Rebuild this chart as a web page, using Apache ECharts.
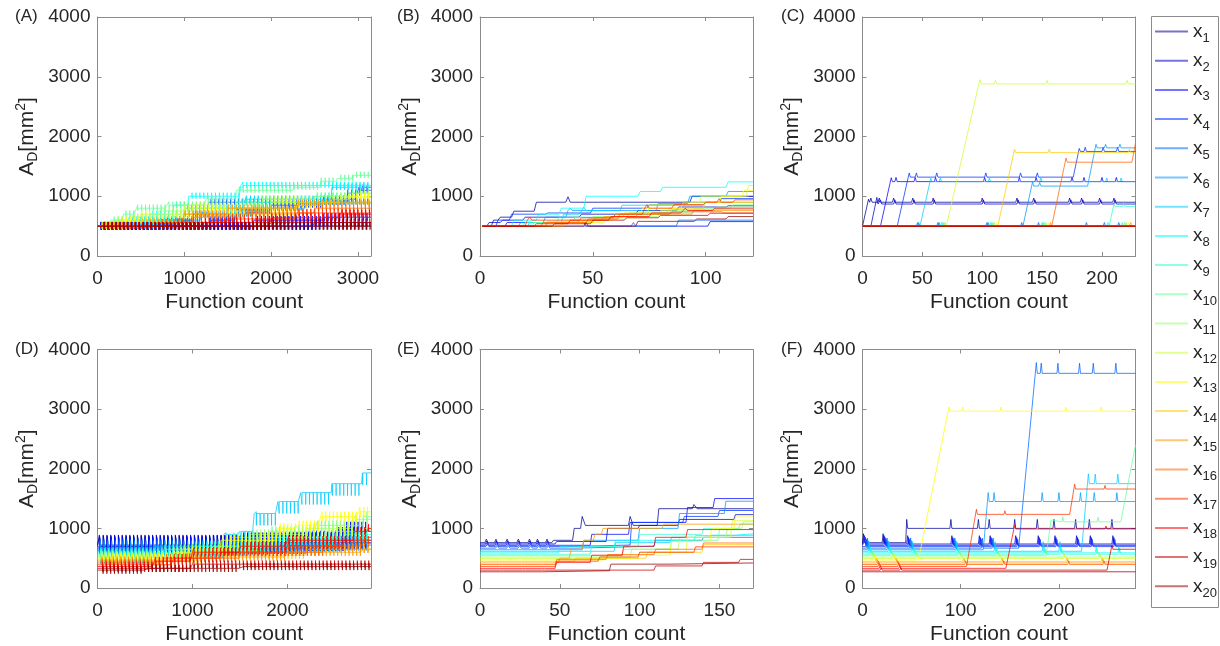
<!DOCTYPE html>
<html>
<head>
<meta charset="utf-8">
<script src="https://cdn.jsdelivr.net/npm/echarts@6/dist/echarts.min.js"></script>
<style>
  html, body { margin: 0; padding: 0; background: #fff; }
  #chart { width: 1220px; height: 646px; }
</style>
</head>
<body>
<div id="chart"></div>
<script>
const seriesNames = ['x1', 'x2', 'x3', 'x4', 'x5', 'x6', 'x7', 'x8', 'x9', 'x10',
  'x11', 'x12', 'x13', 'x14', 'x15', 'x16', 'x17', 'x18', 'x19', 'x20']
// jet colormap, 20 levels
const lineColors = ['#000099', '#0000CC', '#0000FF', '#0033FF', '#0066FF', '#0099FF', '#00CCFF', '#00FFFF', '#33FFCC', '#66FF99',
  '#99FF66', '#CCFF33', '#FFFF00', '#FFCC00', '#FF9900', '#FF6600', '#FF3300', '#FF0000', '#CC0000', '#990000']
const panelLabels = ['(A)', '(B)', '(C)', '(D)', '(E)', '(F)']
const xMaxes = [3150, 121, 228, 2880, 171, 278]
const xIntervals = [1000, 50, 50, 1000, 50, 100]
const yMax = 4000
const yInterval = 1000

// ---- (A) level steps [count, A_D], polling sweeps, spike sizes
const stepsA = [
  [[0, 500]],
  [[0, 500], [2500, 560]],
  [[0, 500], [1800, 600], [2600, 650]],
  [[0, 500], [1300, 600], [1600, 750], [2000, 850], [2600, 950], [3000, 1100]],
  [[0, 500], [800, 600], [1100, 700], [1280, 900], [2880, 1050], [3050, 1150]],
  [[0, 500], [700, 600], [1200, 700], [1800, 800], [2400, 900]],
  [[0, 500], [400, 600], [1000, 800], [1700, 950], [2700, 1150]],
  [[0, 500], [350, 600], [600, 700], [880, 850], [1050, 1000], [1650, 1180]],
  [[0, 500], [500, 600], [900, 700], [1600, 900], [2500, 1000], [2900, 1050]],
  [[0, 500], [150, 600], [300, 700], [450, 800], [800, 850], [1250, 950], [1600, 1100], [2260, 1150], [2570, 1250], [2760, 1300], [2950, 1350]],
  [[0, 500], [200, 600], [400, 650], [700, 750], [1100, 850], [1900, 950], [2500, 1000], [3000, 1050]],
  [[0, 500], [250, 600], [500, 700], [1000, 800], [2000, 900], [2800, 980]],
  [[0, 500], [300, 580], [700, 650], [1200, 750], [2300, 850], [2700, 950], [2900, 1000]],
  [[0, 500], [500, 580], [1000, 700], [2300, 850], [2600, 900]],
  [[0, 500], [600, 560], [1000, 700], [1500, 800], [2300, 880]],
  [[0, 500], [700, 560], [1100, 650], [1700, 720], [2500, 800]],
  [[0, 500], [900, 560], [1500, 620], [2300, 720]],
  [[0, 500], [1200, 560], [2000, 640], [2800, 700]],
  [[0, 500], [2000, 560]],
  [[0, 500]]
]
const sweepsA = [40, 85, 130, 175, 220, 265, 310, 355, 400, 445, 490, 535, 580, 625, 670, 715, 760, 805, 850, 895,
  940, 985, 1030, 1075, 1120, 1165, 1210, 1255, 1300, 1345, 1390, 1435, 1480, 1525, 1570, 1615, 1660, 1705, 1750, 1795,
  1840, 1885, 1930, 1975, 2020, 2065, 2110, 2155, 2200, 2245, 2290, 2335, 2380, 2425, 2470, 2515, 2560, 2605, 2650, 2695,
  2740, 2785, 2830, 2875, 2920, 2965, 3010, 3055, 3100]
const upA = [70, 70, 70, 60, 60, 60, 60, 60, 60, 60, 60, 60, 60, 60, 60, 60, 70, 70, 70, 70]
const dnA = [60, 60, 60, 40, 40, 40, 40, 40, 40, 40, 40, 40, 40, 40, 40, 40, 60, 60, 60, 60]

// ---- (B) level steps
const stepsB = [
  [[1, 500], [6, 600], [9, 650], [15, 750], [25, 900], [38, 900], [39, 990], [40, 900], [94, 1000]],
  [[1, 500], [4, 560], [10, 600], [20, 650], [45, 700], [70, 760], [88, 820], [110, 840]],
  [[1, 500], [12, 560], [47, 500], [102, 576]],
  [[1, 500], [8, 600], [14, 700], [30, 720], [50, 800], [75, 860], [90, 900], [107, 960]],
  [[1, 500], [67, 500], [68, 560], [69, 500], [87, 500], [88, 600]],
  [[1, 500], [18, 560], [29, 650], [39, 760], [40, 800], [41, 760], [79, 880], [93, 1000], [110, 1080]],
  [[1, 500], [22, 560], [37, 700], [45, 760], [46, 820], [47, 760], [63, 850], [100, 900]],
  [[1, 500], [15, 600], [26, 700], [36, 800], [47, 1000], [71, 1080], [81, 1150], [110, 1240]],
  [[1, 500], [20, 560], [35, 650], [60, 700], [85, 780]],
  [[1, 500], [24, 560], [42, 640], [66, 720], [95, 800], [112, 856]],
  [[1, 500], [30, 580], [50, 660], [80, 760], [105, 820]],
  [[1, 500], [34, 560], [56, 640], [75, 860], [98, 1000], [119, 1180]],
  [[1, 500], [38, 600], [60, 700], [72, 800], [90, 900], [107, 1000], [117, 1100]],
  [[1, 500], [37, 560], [51, 640], [64, 720], [84, 800], [100, 895]],
  [[1, 500], [30, 560], [44, 600], [55, 660], [70, 700], [95, 760]],
  [[1, 500], [28, 560], [48, 620], [62, 700], [85, 740], [108, 720]],
  [[1, 500], [21, 600], [22, 650], [23, 600], [45, 640], [60, 700], [73, 800], [74, 860], [75, 800], [86, 860], [100, 900], [106, 960], [107, 900], [113, 940]],
  [[1, 500], [25, 540], [40, 600], [58, 660], [76, 720], [90, 760], [91, 800], [92, 760], [104, 800]],
  [[1, 500], [33, 540], [50, 600], [65, 640], [80, 680], [102, 716]],
  [[1, 500], [46, 500], [47, 560], [48, 500], [70, 580], [96, 620], [110, 660]]
]

// ---- (C) traces [count, A_D]
const linesC = [
  [[0, 500], [5, 950], [6, 900], [228, 900]],
  [[0, 500], [7, 500], [12, 980], [13, 870], [228, 870]],
  [[0, 500], [15, 500], [24, 1310], [25, 1245], [228, 1245]],
  [[0, 500], [29, 500], [39, 1390], [40, 1320], [176, 1320], [181, 1800], [182, 1750], [228, 1750]],
  [[0, 500], [228, 500]],
  [[0, 500], [134, 500], [142, 1240], [143, 1170], [188, 1170], [195, 1870], [196, 1810], [228, 1810]],
  [[0, 500], [48, 500], [57, 1300], [58, 1245], [228, 1245]],
  [[0, 500], [228, 500]],
  [[0, 500], [206, 500], [210, 870], [211, 830], [228, 830]],
  [[0, 500], [228, 500]],
  [[0, 500], [228, 500]],
  [[0, 500], [70, 500], [98, 2950], [99, 2880], [228, 2880]],
  [[0, 500], [228, 500]],
  [[0, 500], [113, 500], [127, 1790], [128, 1730], [228, 1730]],
  [[0, 500], [228, 500]],
  [[0, 500], [158, 500], [170, 1640], [171, 1570], [225, 1570], [228, 1890]],
  [[0, 500], [228, 500]],
  [[0, 500], [228, 500]],
  [[0, 500], [228, 500]],
  [[0, 500], [228, 500]]
]
// [start, last variable polled]
const sweepsC = [[0, 1], [7, 2], [14, 3], [26, 4], [42, 7], [59, 12], [100, 14], [129, 6], [143, 16], [173, 4], [183, 6], [198, 9], [210, 16]]
const upC = [70, 70, 70, 70, 60, 60, 60, 60, 60, 60, 60, 60, 60, 60, 60, 60, 60, 60, 60, 60]

// ---- (D) level steps
const stepsD = [
  [[0, 720], [1500, 760], [2500, 850]],
  [[0, 700], [2000, 760]],
  [[0, 690], [1200, 720], [2600, 950]],
  [[0, 670], [2200, 800]],
  [[0, 650], [1800, 720]],
  [[0, 630], [1600, 700], [2600, 800]],
  [[0, 610], [600, 700], [1330, 900], [1500, 950], [1650, 1250], [1900, 1450], [2140, 1600], [2470, 1750], [2790, 1930]],
  [[0, 590], [1000, 700], [1700, 800], [2500, 850]],
  [[0, 570], [1200, 700], [2000, 850], [2600, 900]],
  [[0, 550], [700, 650], [1400, 850], [1800, 950], [2300, 1050], [2800, 1200]],
  [[0, 530], [900, 650], [1600, 900], [2200, 1000], [2700, 1150]],
  [[0, 510], [1000, 620], [1700, 850], [2400, 950], [2800, 1000]],
  [[0, 490], [800, 600], [1300, 800], [1900, 1000], [2100, 1050], [2350, 1200], [2750, 1280]],
  [[0, 470], [1100, 550], [2200, 650]],
  [[0, 450], [900, 520], [2000, 600], [2800, 650]],
  [[0, 420], [700, 500], [1500, 600], [2400, 700], [2800, 750]],
  [[0, 390], [800, 500], [1300, 600], [2000, 700], [2600, 800]],
  [[0, 360], [600, 450], [1000, 600], [1500, 700], [2000, 800], [2700, 950], [2850, 1000]],
  [[0, 330], [1000, 400]],
  [[0, 300], [500, 330], [1500, 360]]
]
const sweepsD = [20, 60, 100, 140, 180, 220, 260, 300, 340, 380, 420, 460, 500, 540, 580, 620, 660, 700, 740, 780,
  820, 860, 900, 940, 980, 1020, 1060, 1100, 1140, 1180, 1220, 1260, 1300, 1340, 1380, 1420, 1460, 1500, 1540, 1580,
  1620, 1660, 1700, 1740, 1780, 1820, 1860, 1900, 1940, 1980, 2020, 2060, 2100, 2140, 2180, 2220, 2260, 2300, 2340, 2380,
  2420, 2460, 2500, 2540, 2580, 2620, 2660, 2700, 2740, 2780, 2820]
const upD = [170, 170, 160, 160, 150, 150, 30, 80, 80, 80, 80, 80, 80, 70, 70, 70, 70, 70, 60, 60]
const dnD = [100, 100, 100, 100, 90, 90, 200, 80, 80, 80, 80, 80, 100, 60, 60, 60, 60, 60, 60, 60]

// ---- (E) level steps
const stepsE = [
  [[0, 760], [46, 800], [59, 1000], [64, 1200], [66, 1050], [94, 1200], [96, 1050], [112, 1330], [134, 1400], [136, 1330]],
  [[0, 738], [48, 780], [80, 1000], [100, 1050], [125, 1150], [160, 1230]],
  [[0, 716], [70, 900], [94, 1100], [130, 1350], [147, 1500]],
  [[0, 694], [55, 720], [95, 1100], [128, 1200], [150, 1300]],
  [[0, 668], [60, 700], [110, 800], [140, 850]],
  [[0, 642], [65, 800], [100, 1000], [125, 1250], [154, 1455]],
  [[0, 616], [85, 760], [120, 850], [145, 885]],
  [[0, 590], [50, 700], [85, 800], [135, 880], [160, 910]],
  [[0, 566], [70, 700], [100, 900], [140, 1000], [163, 1070]],
  [[0, 542], [90, 650], [120, 800], [150, 980]],
  [[0, 518], [95, 650], [125, 850], [155, 1000], [165, 1110]],
  [[0, 494], [100, 600], [130, 850], [158, 1135]],
  [[0, 470], [78, 550], [120, 780], [145, 1000], [160, 1190]],
  [[0, 446], [60, 500], [105, 600], [140, 727]],
  [[0, 420], [50, 500], [57, 650], [65, 800], [72, 900], [77, 1000], [115, 1070]],
  [[0, 394], [48, 480], [80, 560], [110, 650], [140, 755]],
  [[0, 362], [48, 450], [75, 520], [100, 600], [135, 690]],
  [[0, 330], [48, 430], [70, 550], [90, 700], [110, 850], [130, 980]],
  [[0, 300], [110, 370], [140, 430], [163, 480]],
  [[0, 272], [40, 290], [82, 400], [120, 420]]
]
const sweepsE = [[4, 4], [10, 20], [17, 6], [24, 20], [31, 5], [36, 20], [42, 8]]
const upE = [60, 50, 50, 40, 40, 30, 30, 30, 20, 20, 20, 20, 20, 20, 20, 20, 30, 30, 30, 30]

// ---- (F) traces
const linesF = [
  [[0, 760], [44, 760], [45, 1150], [46, 1000], [278, 1000]],
  [[0, 738], [278, 738]],
  [[0, 716], [278, 716]],
  [[0, 694], [278, 694]],
  [[0, 668], [159, 668], [177, 3780], [178, 3600], [278, 3600]],
  [[0, 642], [123, 642], [128, 1600], [129, 1450], [278, 1450]],
  [[0, 616], [223, 616], [230, 1915], [231, 1750], [278, 1750]],
  [[0, 590], [278, 590]],
  [[0, 566], [278, 566]],
  [[0, 542], [187, 542], [192, 1140], [193, 1110], [263, 1110], [278, 2400]],
  [[0, 518], [278, 518]],
  [[0, 494], [278, 494]],
  [[0, 470], [57, 470], [88, 3035], [89, 2965], [278, 2965]],
  [[0, 446], [278, 446]],
  [[0, 420], [278, 420]],
  [[0, 394], [278, 394]],
  [[0, 362], [106, 362], [116, 1320], [117, 1235], [211, 1235], [216, 1740], [217, 1660], [278, 1660]],
  [[0, 330], [146, 330], [155, 1060], [156, 990], [278, 990]],
  [[0, 300], [249, 300], [254, 720], [255, 650], [278, 650]],
  [[0, 272], [278, 272]]
]
const sweepsF = [[1, 20], [21, 20], [45, 13], [90, 17], [118, 6], [129, 18], [155, 5], [178, 10], [195, 17], [217, 7], [231, 19], [254, 10]]
const upF = [150, 140, 130, 120, 170, 150, 160, 100, 90, 80, 70, 70, 70, 60, 60, 60, 60, 50, 40, 30]

// step list -> polyline with short ramps between levels
function stairs(list, xMax, ramp) {
  const pts = [list[0].slice()]
  for (let k = 1; k < list.length; k++) {
    pts.push([list[k][0] - ramp, list[k - 1][1]])
    pts.push([list[k][0], list[k][1]])
  }
  const last = list[list.length - 1]
  if (last[0] < xMax) pts.push([xMax, last[1]])
  return pts
}

// poll spikes: variable i is tried at sweep start + i*step, only where its trace is flat
function addSpikes(pts, sweeps, idx, step, up, dn) {
  const extra = []
  sweeps.forEach(sw => {
    const start = Array.isArray(sw) ? sw[0] : sw
    const last = Array.isArray(sw) ? sw[1] : 20
    if (idx + 1 > last) return
    const t = start + idx * step
    for (let j = 0; j < pts.length - 1; j++) {
      const a = pts[j]
      const b = pts[j + 1]
      if (a[0] <= t - 1 && b[0] >= t + 2 && a[1] === b[1]) {
        extra.push([t - 1, a[1]], [t, a[1] + up], [t + 1, a[1] - dn], [t + 2, a[1]])
        break
      }
    }
  })
  return pts.concat(extra).sort((p, q) => p[0] - q[0])
}

const panelData = [
  stepsA.map((s, i) => addSpikes(stairs(s, xMaxes[0], 10), sweepsA, i, 2, upA[i], dnA[i])),
  stepsB.map(s => stairs(s, xMaxes[1], 1)),
  linesC.map((s, i) => addSpikes(s, sweepsC, i, 1, upC[i], 0)),
  stepsD.map((s, i) => addSpikes(stairs(s, xMaxes[3], 10), sweepsD, i, 2, upD[i], dnD[i])),
  stepsE.map((s, i) => addSpikes(stairs(s, xMaxes[4], 1), sweepsE, i, 0.2, upE[i], 0)),
  linesF.map((s, i) => addSpikes(s, sweepsF, i, 1, upF[i], 0))
]

const FONT = '"Liberation Sans", Arial, sans-serif'
const TXT = '#262626'
const AXC = '#8c8c8c'

const grids = [
  { left: 97.5, top: 17, width: 273.5, height: 239 },
  { left: 480, top: 17, width: 273, height: 239 },
  { left: 862.5, top: 17, width: 273, height: 239 },
  { left: 97.5, top: 349.5, width: 273.5, height: 238.5 },
  { left: 480, top: 349.5, width: 273, height: 238.5 },
  { left: 862.5, top: 349.5, width: 273, height: 238.5 }
]

const chart = echarts.init(document.getElementById('chart'), null, { renderer: 'canvas' })

const xAxes = []
const yAxes = []
const series = []
const graphics = []
const axisLine = { show: true, onZero: false, lineStyle: { color: AXC, width: 1 } }
const axisTick = { show: true, inside: true, length: 4, lineStyle: { color: AXC } }
const plain = v => String(v)

grids.forEach((g, gi) => {
  xAxes.push({
    type: 'value', gridIndex: gi, position: 'bottom',
    min: 0, max: xMaxes[gi], interval: xIntervals[gi],
    axisLine: axisLine, axisTick: axisTick,
    axisLabel: { fontSize: 19, color: TXT, fontFamily: FONT, margin: 13, showMaxLabel: false, formatter: plain },
    splitLine: { show: false },
    name: 'Function count', nameLocation: 'middle', nameGap: 36,
    nameTextStyle: { fontSize: 21, color: TXT, fontFamily: FONT }
  })
  xAxes.push({
    type: 'value', gridIndex: gi, position: 'top',
    min: 0, max: xMaxes[gi], interval: xIntervals[gi],
    axisLine: axisLine, axisTick: axisTick,
    axisLabel: { show: false }, splitLine: { show: false }
  })
  yAxes.push({
    type: 'value', gridIndex: gi, position: 'left',
    min: 0, max: yMax, interval: yInterval,
    axisLine: axisLine, axisTick: axisTick,
    axisLabel: { fontSize: 19, color: TXT, fontFamily: FONT, margin: 7, formatter: plain },
    splitLine: { show: false },
    name: '{a|A}{b|D}{a|[mm}{c|2}{a|]}', nameLocation: 'middle', nameRotate: 90, nameGap: 57,
    nameTextStyle: {
      color: TXT, fontFamily: FONT, fontSize: 21,
      rich: {
        a: { fontSize: 21, color: TXT, fontFamily: FONT },
        b: { fontSize: 14, color: TXT, fontFamily: FONT, padding: [12, 0, 0, 0] },
        c: { fontSize: 14, color: TXT, fontFamily: FONT, padding: [0, 0, 12, 0] }
      }
    }
  })
  yAxes.push({
    type: 'value', gridIndex: gi, position: 'right',
    min: 0, max: yMax, interval: yInterval,
    axisLine: axisLine, axisTick: axisTick,
    axisLabel: { show: false }, splitLine: { show: false }
  })
  panelData[gi].forEach((pts, i) => {
    series.push({
      name: seriesNames[i], type: 'line',
      xAxisIndex: gi * 2, yAxisIndex: gi * 2,
      data: pts, symbol: 'none', showSymbol: false, silent: true,
      color: lineColors[i],
      lineStyle: { width: 1, color: lineColors[i], opacity: 0.75 },
      emphasis: { disabled: true }
    })
  })
  graphics.push({
    type: 'text', left: gi % 3 === 0 ? 15 : (gi % 3 === 1 ? 397 : 781),
    top: (gi < 3 ? 17 : 349.5) - 9,
    style: { text: panelLabels[gi], fontSize: 17, fill: TXT, fontFamily: FONT }
  })
})

// legend frame
graphics.push({
  type: 'rect', shape: { x: 1151.5, y: 16.5, width: 67, height: 591 },
  style: { fill: '#fff', stroke: AXC, lineWidth: 1 }, z: -1
})

chart.setOption({
  animation: false,
  backgroundColor: '#fff',
  grid: grids.map(g => Object.assign({ outerBoundsMode: 'none', containLabel: false }, g)),
  xAxis: xAxes,
  yAxis: yAxes,
  legend: {
    orient: 'vertical', left: 1155, top: 22, padding: 0,
    itemGap: 6.2, itemWidth: 33, itemHeight: 2, icon: 'rect',
    itemStyle: { opacity: 0.55 },
    selectedMode: false,
    data: seriesNames,
    formatter: n => '{x|x}{s|' + n.slice(1) + '}',
    textStyle: {
      color: TXT, fontFamily: FONT,
      rich: {
        x: { fontSize: 19, color: TXT, fontFamily: FONT },
        s: { fontSize: 13, color: TXT, fontFamily: FONT, padding: [14, 0, 0, 0] }
      }
    }
  },
  graphic: graphics,
  series: series
})
</script>
</body>
</html>
